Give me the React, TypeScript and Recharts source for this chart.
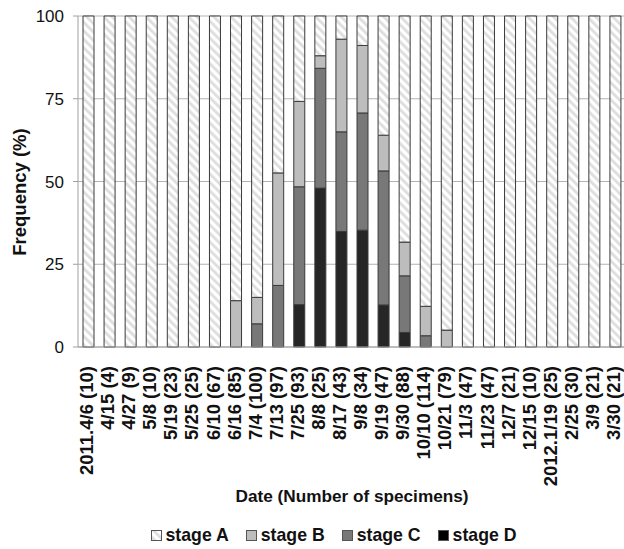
import { BarChart, Bar, XAxis, YAxis, CartesianGrid, Legend } from 'recharts'

const dates = [
  '2011.4/6 (10)', '4/15 (4)', '4/27 (9)', '5/8 (10)', '5/19 (23)', '5/25 (25)', '6/10 (67)',
  '6/16 (85)', '7/4 (100)', '7/13 (97)', '7/25 (93)', '8/8 (25)', '8/17 (43)', '9/8 (34)',
  '9/19 (47)', '9/30 (88)', '10/10 (114)', '10/21 (79)', '11/3 (47)', '11/23 (47)', '12/7 (21)',
  '12/15 (10)', '2012.1/19 (25)', '2/25 (30)', '3/9 (21)', '3/30 (21)',
]

// segment percentages, bottom to top: D, C, B, A
const stageD = [0, 0, 0, 0, 0, 0, 0, 0, 0, 0, 12.8, 48, 34.9, 35.3, 12.7, 4.4, 0, 0, 0, 0, 0, 0, 0, 0, 0, 0]
const stageC = [0, 0, 0, 0, 0, 0, 0, 0, 7, 18.6, 35.6, 36.2, 30.1, 35.4, 40.5, 17.1, 3.4, 0, 0, 0, 0, 0, 0, 0, 0, 0]
const stageB = [0, 0, 0, 0, 0, 0, 0, 14, 8, 34, 25.8, 3.8, 28, 20.4, 10.8, 10.2, 8.9, 5.1, 0, 0, 0, 0, 0, 0, 0, 0]
const stageA = [100, 100, 100, 100, 100, 100, 100, 86, 85, 47.4, 25.8, 12, 7, 8.9, 36, 68.3, 87.7, 94.9, 100, 100, 100, 100, 100, 100, 100, 100]

const yTicks = [0, 25, 50, 75, 100]

const series = [
  { key: 'D', name: 'stage D', fill: '#262626' },
  { key: 'C', name: 'stage C', fill: '#787878' },
  { key: 'B', name: 'stage B', fill: '#bdbdbd' },
  { key: 'A', name: 'stage A', fill: 'url(#hatch)' },
]

const data = dates.map((d, i) => ({ date: d, D: stageD[i], C: stageC[i], B: stageB[i], A: stageA[i] }))

const FONT = '"Liberation Sans", Arial, sans-serif'

function DateTick({ x, y, payload }: { x?: number; y?: number; payload?: { value: string } }) {
  return (
    <text
      transform={`translate(${(x ?? 0) - 2},${(y ?? 0) + 11}) rotate(-90)`}
      textAnchor="end"
      dominantBaseline="central"
      fontFamily={FONT}
      fontWeight="bold"
      fontSize={18.5}
      fill="#111"
    >
      {payload?.value}
    </text>
  )
}

function YTitle() {
  return (
    <text
      transform="translate(19,192) rotate(-90)"
      textAnchor="middle"
      dominantBaseline="central"
      fontFamily={FONT}
      fontWeight="bold"
      fontSize={18.5}
      fill="#111"
    >
      Frequency (%)
    </text>
  )
}

function LegendBox({ k }: { k: string }) {
  const s = series.find(x => x.key === k)!
  return (
    <svg width={11} height={11} style={{ marginRight: 4 }}>
      <rect x={0.5} y={0.5} width={10} height={10} fill={k === 'D' ? '#000' : s.fill} stroke="#555" />
    </svg>
  )
}

function StageLegend() {
  const order = ['A', 'B', 'C', 'D']
  return (
    <div style={{ display: 'flex', justifyContent: 'center', alignItems: 'center', paddingLeft: 58, fontFamily: FONT, fontWeight: 'bold', fontSize: 17.7, color: '#111' }}>
      {order.map(k => (
        <div key={k} style={{ display: 'flex', alignItems: 'center', marginRight: 17 }}>
          <LegendBox k={k} />
          <span>{series.find(x => x.key === k)!.name}</span>
        </div>
      ))}
    </div>
  )
}

export default function App() {
  return (
    <div style={{ position: 'absolute', left: 0, top: 0, width: 624, height: 549, overflow: 'hidden', background: '#fff' }}>
      <BarChart width={630} height={549} data={data} margin={{ top: 16, right: 4, left: 0, bottom: 0 }} barCategoryGap={0}>
        <defs>
          <pattern id="hatch" width={6} height={6} patternUnits="userSpaceOnUse" patternTransform="rotate(-45)">
            <rect x={0} y={0} width={6} height={6} fill="#fff" />
            <rect x={0} y={0} width={2.8} height={6} fill="#dedede" />
          </pattern>
        </defs>
        <CartesianGrid vertical={false} stroke="#b3b3b3" />
        <XAxis
          dataKey="date"
          interval={0}
          height={178}
          tick={<DateTick />}
          tickLine={false}
          axisLine={{ stroke: '#a0a0a0' }}
          label={{ value: 'Date (Number of specimens)', position: 'insideBottom', offset: 23, fontFamily: FONT, fontWeight: 'bold', fontSize: 17.2, fill: '#111' }}
        />
        <YAxis
          width={78}
          domain={[0, 100]}
          ticks={yTicks}
          interval={0}
          tickSize={5}
          tickMargin={9}
          tick={{ fontFamily: FONT, fontSize: 17, fill: '#111' }}
          tickLine={{ stroke: '#a0a0a0' }}
          axisLine={{ stroke: '#a0a0a0' }}
          label={<YTitle />}
        />
        <Legend verticalAlign="bottom" height={24} content={<StageLegend />} />
        {series.map(s => (
          <Bar
            key={s.key}
            dataKey={s.key}
            name={s.name}
            stackId="stage"
            barSize={11}
            fill={s.fill}
            stroke="#3a3a3a"
            strokeWidth={1}
            isAnimationActive={false}
          />
        ))}
      </BarChart>
    </div>
  )
}
